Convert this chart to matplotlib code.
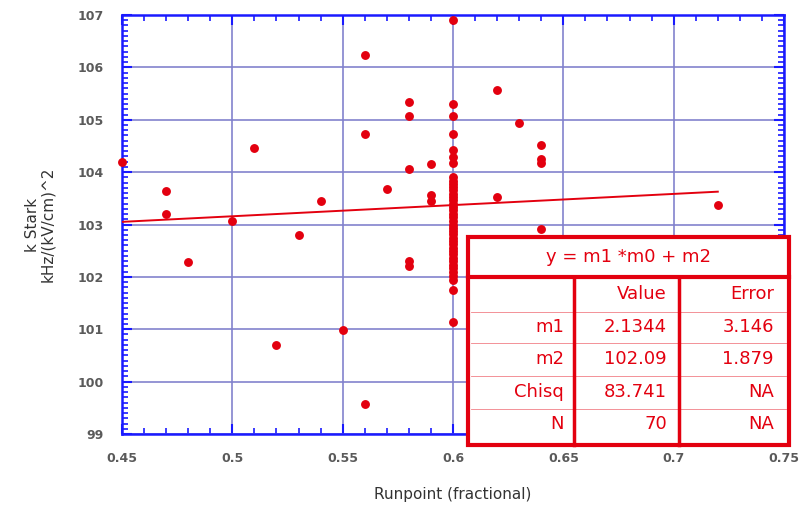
import matplotlib.pyplot as plt
from matplotlib.ticker import MultipleLocator
from matplotlib.patches import Rectangle

# runpoints (fractional) and k Stark values
runpoint = [0.45, 0.47, 0.47, 0.48, 0.50, 0.51, 0.52, 0.53, 0.54, 0.55,
            0.56, 0.56, 0.56, 0.57, 0.58, 0.58, 0.58, 0.58, 0.58,
            0.59, 0.59, 0.59, 0.62, 0.62, 0.63, 0.64, 0.64, 0.64, 0.64, 0.72]
kstark = [104.20, 103.64, 103.20, 102.28, 103.06, 104.46, 100.69, 102.80, 103.44, 100.98,
          106.24, 104.73, 99.58, 103.68, 105.33, 105.08, 104.06, 102.30, 102.20,
          104.15, 103.57, 103.45, 105.57, 103.52, 104.94, 104.52, 104.25, 104.18, 102.91, 103.37]

# the dense column at runpoint 0.6
col_x = 0.60
col_y = [106.90, 105.30, 105.07, 104.73, 104.42, 104.29, 104.18,
         103.91, 103.84, 103.78, 103.72, 103.65, 103.58, 103.52, 103.46, 103.40, 103.33,
         103.27, 103.20, 103.14, 103.07, 103.00, 102.94, 102.88, 102.81, 102.75, 102.68,
         102.62, 102.55, 102.49, 102.43, 102.36, 102.30, 102.23, 102.16, 102.10, 102.02,
         101.94, 101.75, 101.14]

# linear fit y = m1*m0 + m2
m1 = 2.1344
m2 = 102.09
fit_x = [0.45, 0.72]

xticks = [0.45, 0.5, 0.55, 0.6, 0.65, 0.7, 0.75]
xtick_labels = ["0.45", "0.5", "0.55", "0.6", "0.65", "0.7", "0.75"]

table_rows = [("m1", "2.1344", "3.146"),
              ("m2", "102.09", "1.879"),
              ("Chisq", "83.741", "NA"),
              ("N", "70", "NA")]

W, H = 807, 505
fig = plt.figure(figsize=(W / 100, H / 100), dpi=100)
ax = fig.add_axes([122 / W, 1 - 434 / H, (784 - 122) / W, (434 - 15) / H])

red = "#e3000f"
blue = "#1a1aff"
grid = "#8080cc"

all_x = runpoint + [col_x] * len(col_y)
all_y = kstark + col_y
ax.plot(all_x, all_y, "o", color=red, markersize=6.4, markeredgewidth=0, zorder=3, clip_on=False)
ax.plot(fit_x, [m1 * x + m2 for x in fit_x], color=red, lw=1.4, zorder=3)

ax.set_xlim(0.45, 0.75)
ax.set_ylim(99, 107)
ax.set_xticks(xticks)
ax.set_xticklabels(xtick_labels)
ax.xaxis.set_minor_locator(MultipleLocator(0.01))
ax.yaxis.set_major_locator(MultipleLocator(1))
ax.yaxis.set_minor_locator(MultipleLocator(0.1))
ax.grid(True, which="major", color=grid, lw=1.3, alpha=0.9)
for s in ax.spines.values():
    s.set_color(blue)
    s.set_linewidth(1.8)
ax.tick_params(which="both", direction="in", colors=blue, top=True, right=True,
               labelcolor="#5a5a5a", labelsize=9, pad=13)
ax.tick_params(which="major", length=7, width=1.5)
ax.tick_params(which="minor", length=4, width=1.2)
for lab in ax.get_xticklabels() + ax.get_yticklabels():
    lab.set_fontweight("bold")

ax.set_xlabel("Runpoint (fractional)", fontsize=11, color="#333333", labelpad=16)
ax.set_ylabel("k Stark\nkHz/(kV/cm)^2", fontsize=11, color="#333333", labelpad=16,
              linespacing=1.0)

# fit results table, drawn in figure pixels
tb = fig.add_axes([0, 0, 1, 1], facecolor="none")
tb.set_xlim(0, W)
tb.set_ylim(H, 0)
tb.axis("off")
tl, tr, tt, tbm = 468, 789, 237, 445
tb.add_patch(Rectangle((tl, tt), tr - tl, tbm - tt, facecolor="white", edgecolor=red, lw=3, zorder=1))
tb.plot([tl, tr], [277, 277], color=red, lw=3)
row_lines = [312, 343, 376, 409]
for yy in row_lines:
    tb.plot([tl + 3, tr - 3], [yy, yy], color=red, lw=0.6, alpha=0.5)
for xx in [574, 679]:
    tb.plot([xx, xx], [277, tbm], color=red, lw=2.5)
tb.text((tl + tr) / 2, 257, "y = m1 *m0 + m2", color=red, fontsize=13, ha="center", va="center")
tb.text(667, 294, "Value", color=red, fontsize=13, ha="right", va="center")
tb.text(774, 294, "Error", color=red, fontsize=13, ha="right", va="center")
row_mid = [327, 359, 392, 424]
for (name, val, err), ym in zip(table_rows, row_mid):
    tb.text(564, ym, name, color=red, fontsize=13, ha="right", va="center")
    tb.text(667, ym, val, color=red, fontsize=13, ha="right", va="center")
    tb.text(774, ym, err, color=red, fontsize=13, ha="right", va="center")

fig.savefig("out.png", dpi=100)
